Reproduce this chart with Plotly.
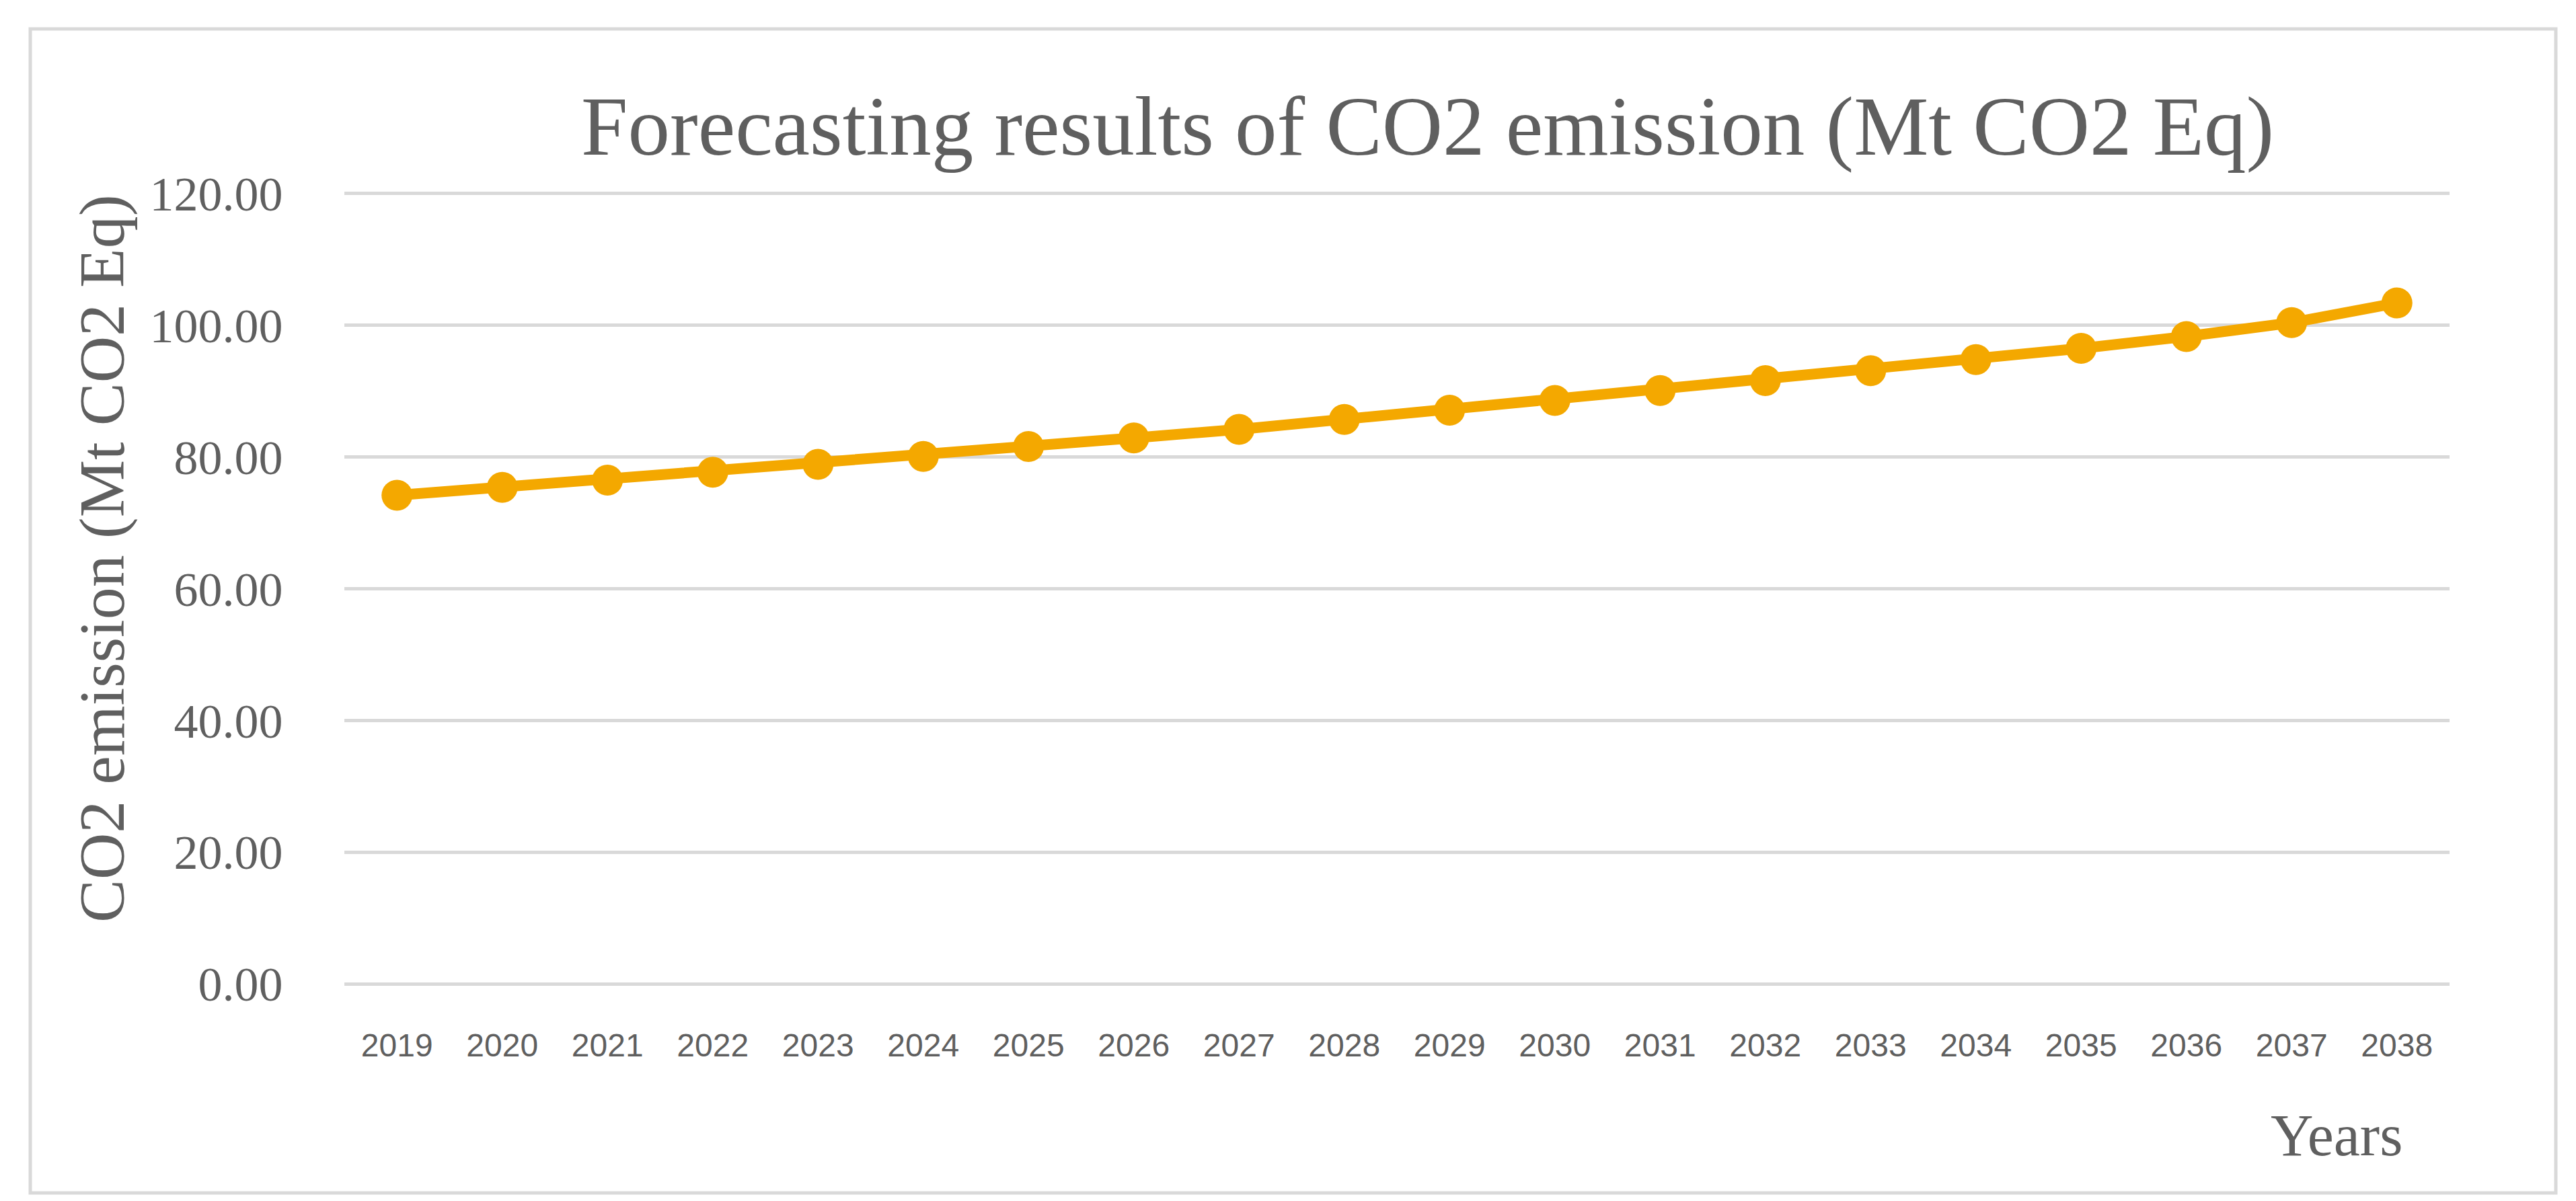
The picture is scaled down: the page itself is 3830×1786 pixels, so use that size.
import plotly.graph_objects as go

years = [str(y) for y in range(2019, 2039)]
emissions = [74.2, 75.4, 76.5, 77.7, 78.9, 80.1, 81.6, 82.9, 84.2, 85.7,
             87.1, 88.6, 90.1, 91.6, 93.1, 94.8, 96.5, 98.3, 100.4, 103.4]
y_ticks = [0, 20, 40, 60, 80, 100, 120]
y_tick_labels = ["0.00", "20.00", "40.00", "60.00", "80.00", "100.00", "120.00"]

title_text = "Forecasting results of CO2 emission (Mt CO2 Eq)"
y_title_text = "CO2 emission (Mt CO2 Eq)"
x_title_text = "Years"

W, H = 3830, 1786
L, R, T, B = 504, 196, 275, 326

TEXT = "#5f5f5f"
LINE = "#F4A800"
GRID = "#D9D9D9"
SERIF = "Liberation Serif, DejaVu Serif, serif"
SANS = "Liberation Sans Narrow, Liberation Sans, Arial, sans-serif"

fig = go.Figure()
fig.add_trace(go.Scatter(
    x=years, y=emissions, mode="lines+markers",
    line=dict(color=LINE, width=16),
    marker=dict(color=LINE, size=46),
    showlegend=False, hoverinfo="x+y",
))

pw = W - L - R
ph = H - T - B

def px_x(x):
    return (x - L) / pw

def px_y(y):
    return (H - B - y) / ph

fig.update_layout(
    width=W, height=H,
    margin=dict(l=L, r=R, t=T, b=B, pad=0),
    paper_bgcolor="white", plot_bgcolor="white",
    showlegend=False,
    xaxis=dict(
        type="category", range=[-0.5, len(years) - 0.5],
        showgrid=False, zeroline=False, showline=False,
        ticks="outside", ticklen=44, tickcolor="rgba(0,0,0,0)",
        tickfont=dict(family=SANS, size=48, color=TEXT),
    ),
    yaxis=dict(
        range=[-0.5, 120.5], tickvals=y_ticks, ticktext=y_tick_labels,
        showgrid=True, gridcolor=GRID, gridwidth=5,
        zeroline=False, showline=False,
        ticks="outside", ticklen=76, tickcolor="rgba(0,0,0,0)",
        tickfont=dict(family=SERIF, size=72, color=TEXT),
    ),
    annotations=[
        dict(text=title_text, xref="paper", yref="paper",
             x=px_x(2114), y=px_y(180), xanchor="center", yanchor="middle",
             showarrow=False, font=dict(family=SERIF, size=125, color=TEXT)),
        dict(text=y_title_text, xref="paper", yref="paper",
             x=px_x(144), y=px_y(823), xanchor="center", yanchor="middle",
             textangle=-90, showarrow=False,
             font=dict(family=SERIF, size=96, color=TEXT)),
        dict(text=x_title_text, xref="paper", yref="paper",
             x=px_x(3466), y=px_y(1680), xanchor="center", yanchor="middle",
             showarrow=False, font=dict(family=SERIF, size=88, color=TEXT)),
    ],
    shapes=[
        dict(type="rect", xref="paper", yref="paper",
             x0=px_x(37), x1=px_x(3792), y0=px_y(1766), y1=px_y(35),
             line=dict(color=GRID, width=5), fillcolor="rgba(0,0,0,0)",
             layer="below"),
    ],
)

fig.write_html("out.html")
